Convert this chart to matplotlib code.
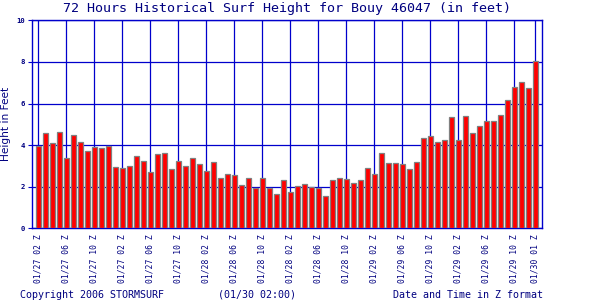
import numpy as np
import matplotlib
matplotlib.use("Agg")
import matplotlib.pyplot as plt

# ------------------------------------------------------------
# Data
# ------------------------------------------------------------
heights = [
    3.98, 4.56, 4.08, 4.61, 3.40, 4.51, 4.17, 3.74, 3.93, 3.88, 3.98, 2.97,
    2.92, 3.02, 3.50, 3.26, 2.73, 3.55, 3.60, 2.83, 3.26, 3.02, 3.40, 3.11,
    2.78, 3.21, 2.44, 2.63, 2.54, 2.10, 2.44, 1.96, 2.44, 1.96, 1.67, 2.34,
    1.77, 2.05, 2.15, 2.01, 1.96, 1.57, 2.30, 2.44, 2.39, 2.20, 2.34, 2.92,
    2.63, 3.64, 3.16, 3.16, 3.11, 2.83, 3.21, 4.32, 4.46, 4.13, 4.27, 5.33,
    4.27, 5.38, 4.56, 4.90, 5.18, 5.14, 5.47, 6.15, 6.82, 7.06, 6.77, 8.07,
]
tick_idx = [0, 4, 8, 12, 16, 20, 24, 28, 32, 36, 40, 44, 48, 52, 56, 60, 64, 68, 71]
tick_labels = [
    "01/27 02 Z", "01/27 06 Z", "01/27 10 Z", "01/27 02 Z", "01/27 06 Z", "01/27 10 Z",
    "01/28 02 Z", "01/28 06 Z", "01/28 10 Z", "01/28 02 Z", "01/28 06 Z", "01/28 10 Z",
    "01/29 02 Z", "01/29 06 Z", "01/29 10 Z", "01/29 02 Z", "01/29 06 Z", "01/29 10 Z",
    "01/30 01 Z",
]
y_ticks = [0, 2, 4, 6, 8, 10]

blue = "#0000CC"
navy = "#000080"
mono = "DejaVu Sans Mono"

# ------------------------------------------------------------
# Plot
# ------------------------------------------------------------
fig = plt.figure(figsize=(6, 3), dpi=100)
ax = fig.add_axes([0.053, 0.239, 0.851, 0.693])

x = np.arange(len(heights))
ax.bar(x, heights, width=0.72, color="#FF0000", edgecolor="#808080",
       linewidth=0.9, zorder=3)

ax.set_xlim(-0.95, 72)
ax.set_ylim(0, 10)

ax.set_xticks(tick_idx)
ax.set_xticklabels(tick_labels, rotation=90, fontsize=5.8, family=mono,
                   color=navy, va="top")
ax.set_yticks(y_ticks)
ax.set_yticklabels([str(v) for v in y_ticks], fontsize=5.2, family=mono,
                   color=navy, fontweight="bold")
ax.tick_params(axis="x", length=0, pad=4)
ax.tick_params(axis="y", length=3, width=0.8, color=blue, pad=2)

ax.grid(True, color=blue, linewidth=0.9, zorder=1)
for s in ax.spines.values():
    s.set_color(blue)
    s.set_linewidth(1.0)

ax.set_ylabel("Height in Feet", fontsize=7.6, color=navy, labelpad=4)

fig.text(0.478, 0.973, "72 Hours Historical Surf Height for Bouy 46047 (in feet)",
         ha="center", va="center", fontsize=9.6, family=mono, color=navy)
fig.text(0.033, 0.017, "Copyright 2006 STORMSURF", ha="left", va="center",
         fontsize=7.2, family=mono, color=navy)
fig.text(0.363, 0.017, "(01/30 02:00)", ha="left", va="center",
         fontsize=7.2, family=mono, color=navy)
fig.text(0.905, 0.017, "Date and Time in Z format", ha="right", va="center",
         fontsize=7.2, family=mono, color=navy)

plt.savefig("out.png", dpi=100)
